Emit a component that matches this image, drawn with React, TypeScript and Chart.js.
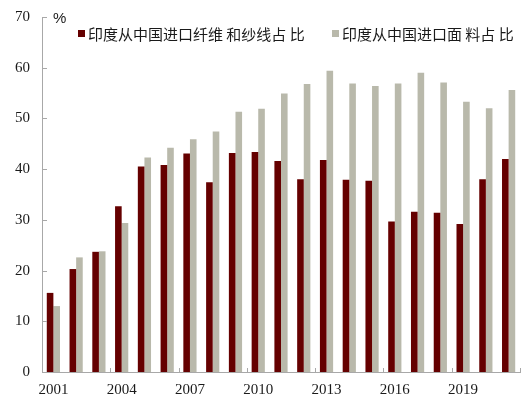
import { useEffect, useRef } from 'react';
import { Chart, registerables } from 'chart.js';

Chart.register(...registerables);

const years = [
  '2001', '2002', '2003', '2004', '2005', '2006', '2007', '2008', '2009', '2010', '2011',
  '2012', '2013', '2014', '2015', '2016', '2017', '2018', '2019', '2020', '2021',
];
// 印度从中国进口纤维和纱线占比 (%)
const yarnShare = [
  15.6, 20.3, 23.7, 32.7, 40.5, 40.8, 43.1, 37.4, 43.2, 43.4, 41.6,
  38.0, 41.8, 37.9, 37.7, 29.7, 31.6, 31.4, 29.2, 38.0, 42.0,
];
// 印度从中国进口面料占比 (%)
const fabricShare = [
  13.0, 22.6, 23.8, 29.4, 42.3, 44.2, 45.9, 47.4, 51.3, 51.9, 54.9,
  56.8, 59.4, 56.9, 56.4, 56.9, 59.0, 57.1, 53.3, 52.0, 55.6,
];
const legendLabels = ['印度从中国进口纤维 和纱线占 比', '印度从中国进口面 料占 比'];

const RED = '#650000';
const GREY = '#b9b9ab';
const AXIS = '#a8a8a8';

// legend, "%" unit and the small inward tick marks
const overlay = {
  id: 'overlay',
  afterDraw(chart: Chart) {
    const { ctx, chartArea, scales } = chart;
    ctx.save();

    // inward ticks
    ctx.strokeStyle = AXIS;
    ctx.lineWidth = 1;
    const y = scales.y;
    y.ticks.forEach((t) => {
      const py = Math.round(y.getPixelForValue(t.value)) + 0.5;
      ctx.beginPath();
      ctx.moveTo(chartArea.left, py);
      ctx.lineTo(chartArea.left + 5, py);
      ctx.stroke();
    });
    const step = (chartArea.right - chartArea.left) / years.length;
    for (let i = 3; i <= years.length; i += 3) {
      const px = Math.round(chartArea.left + i * step) + 0.5;
      ctx.beginPath();
      ctx.moveTo(px, chartArea.bottom);
      ctx.lineTo(px, chartArea.bottom - 4);
      ctx.stroke();
    }

    // unit
    ctx.fillStyle = '#1a1a1a';
    ctx.font = '15px "Liberation Sans"';
    ctx.textBaseline = 'middle';
    ctx.textAlign = 'left';
    ctx.fillText('%', 53, 19);

    // legend
    const items = [
      { x: 78, color: RED },
      { x: 332, color: GREY },
    ];
    ctx.font = '15px "Noto Sans CJK SC"';
    items.forEach((it, i) => {
      ctx.fillStyle = it.color;
      ctx.fillRect(it.x, 30, 7, 7);
      ctx.fillStyle = '#1a1a1a';
      ctx.fillText(legendLabels[i], it.x + 10, 34);
    });
    ctx.restore();
  },
};

export default function App() {
  const canvasRef = useRef<HTMLCanvasElement>(null);
  const chartRef = useRef<Chart | null>(null);

  useEffect(() => {
    document.body.style.margin = '0';
    const ctx = canvasRef.current?.getContext('2d');
    if (!ctx) return;
    chartRef.current?.destroy();

    chartRef.current = new Chart(ctx, {
      type: 'bar',
      data: {
        labels: years,
        datasets: [
          {
            label: legendLabels[0],
            data: yarnShare,
            backgroundColor: RED,
            categoryPercentage: 0.58,
            barPercentage: 1,
          },
          {
            label: legendLabels[1],
            data: fabricShare,
            backgroundColor: GREY,
            categoryPercentage: 0.58,
            barPercentage: 1,
          },
        ],
      },
      options: {
        responsive: false,
        animation: false,
        layout: { padding: { top: 0, right: 10, bottom: 0, left: 0 } },
        plugins: {
          legend: { display: false },
          tooltip: { enabled: false },
        },
        scales: {
          x: {
            grid: { display: false, drawTicks: false },
            border: { color: AXIS },
            ticks: {
              autoSkip: false,
              maxRotation: 0,
              padding: 9,
              color: '#1a1a1a',
              font: { family: '"Liberation Serif"', size: 15 },
              callback: (_v, i) => (i % 3 === 0 ? years[i] : ''),
            },
            afterFit: (s) => {
              s.height = 28;
            },
          },
          y: {
            min: 0,
            max: 70,
            grid: { display: false, drawTicks: false },
            border: { color: AXIS },
            ticks: {
              stepSize: 10,
              padding: 12,
              color: '#1a1a1a',
              font: { family: '"Liberation Serif"', size: 15 },
            },
            afterFit: (s) => {
              s.width = 42;
              s.paddingTop = 17;
            },
          },
        },
      },
      plugins: [overlay],
    });

    return () => {
      chartRef.current?.destroy();
      chartRef.current = null;
    };
  }, []);

  return (
    <div style={{ width: 530, height: 400, background: '#fff' }}>
      <canvas ref={canvasRef} width={530} height={400}></canvas>
    </div>
  );
}
